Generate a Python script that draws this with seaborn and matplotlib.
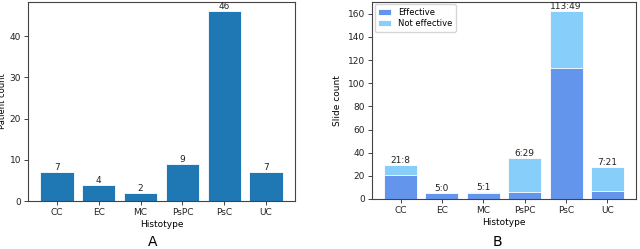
import matplotlib
matplotlib.use('Agg')
import matplotlib.pyplot as plt
import seaborn as sns
import pandas as pd

histotypes = ['CC', 'EC', 'MC', 'PsPC', 'PsC', 'UC']
patient_counts = [7, 4, 2, 9, 46, 7]
slide_effective = [21, 5, 5, 6, 113, 7]
slide_not_effective = [8, 0, 1, 29, 49, 21]

plt.rcParams.update({'font.family': 'DejaVu Sans', 'font.size': 6.5})

df_a = pd.DataFrame({'Histotype': histotypes, 'count': patient_counts})
df_b = pd.DataFrame({'Histotype': histotypes,
                     'eff': slide_effective,
                     'noneff': slide_not_effective})
df_b['total'] = df_b['eff'] + df_b['noneff']

fig = plt.figure(figsize=(6.4, 2.49), dpi=100)
ax1 = fig.add_axes([28 / 640, 1 - 201 / 249, 267 / 640, 199 / 249])
ax2 = fig.add_axes([372 / 640, 1 - 199 / 249, 264 / 640, 197 / 249])

# panel A
sns.barplot(data=df_a, x='Histotype', y='count', color='#1f77b4', saturation=1,
            edgecolor='white', linewidth=0.6, width=0.8, ax=ax1)
for i, v in enumerate(df_a['count']):
    ax1.text(i, v, str(v), ha='center', va='bottom', fontsize=6.5, color='#222222')
ax1.set_xlim(-0.69, 5.69)
ax1.set_ylim(0, max(patient_counts) * 1.05)
ax1.set_ylabel('Patient count', fontsize=6, labelpad=1.5)
ax1.set_xlabel('Histotype', fontsize=6.5, labelpad=2)
ax1.set_yticks([0, 10, 20, 30, 40])

# panel B (stacked: total drawn first, effective on top of it)
sns.barplot(data=df_b, x='Histotype', y='total', color='lightskyblue', saturation=1,
            edgecolor='white', linewidth=0.6, width=0.8, ax=ax2, label='Not effective')
sns.barplot(data=df_b, x='Histotype', y='eff', color='cornflowerblue', saturation=1,
            edgecolor='white', linewidth=0.6, width=0.8, ax=ax2, label='Effective')
for i, row in df_b.iterrows():
    ax2.text(i, row['total'], f"{row['eff']}:{row['noneff']}", ha='center', va='bottom',
             fontsize=6.5, color='#222222')
ax2.set_xlim(-0.69, 5.69)
ax2.set_ylim(0, df_b['total'].max() * 1.05)
ax2.set_yticks(range(0, 161, 20))
ax2.set_ylabel('Slide count', fontsize=6.5)
ax2.set_xlabel('Histotype', fontsize=6.5, labelpad=2)
handles, labels = ax2.get_legend_handles_labels()
ax2.legend(handles[::-1], labels[::-1], loc='upper left', fontsize=6,
           borderaxespad=0.3, handlelength=1.6, labelspacing=0.3)

for ax in (ax1, ax2):
    ax.tick_params(labelsize=6.5, length=3, width=0.6, pad=2, colors='#222222')
    for s in ax.spines.values():
        s.set_linewidth(0.8)
        s.set_color('#444444')

fig.text(153 / 640, 1 - 242 / 249, 'A', ha='center', va='center', fontsize=10)
fig.text(497 / 640, 1 - 242 / 249, 'B', ha='center', va='center', fontsize=10)

fig.savefig('out.png', dpi=100)
